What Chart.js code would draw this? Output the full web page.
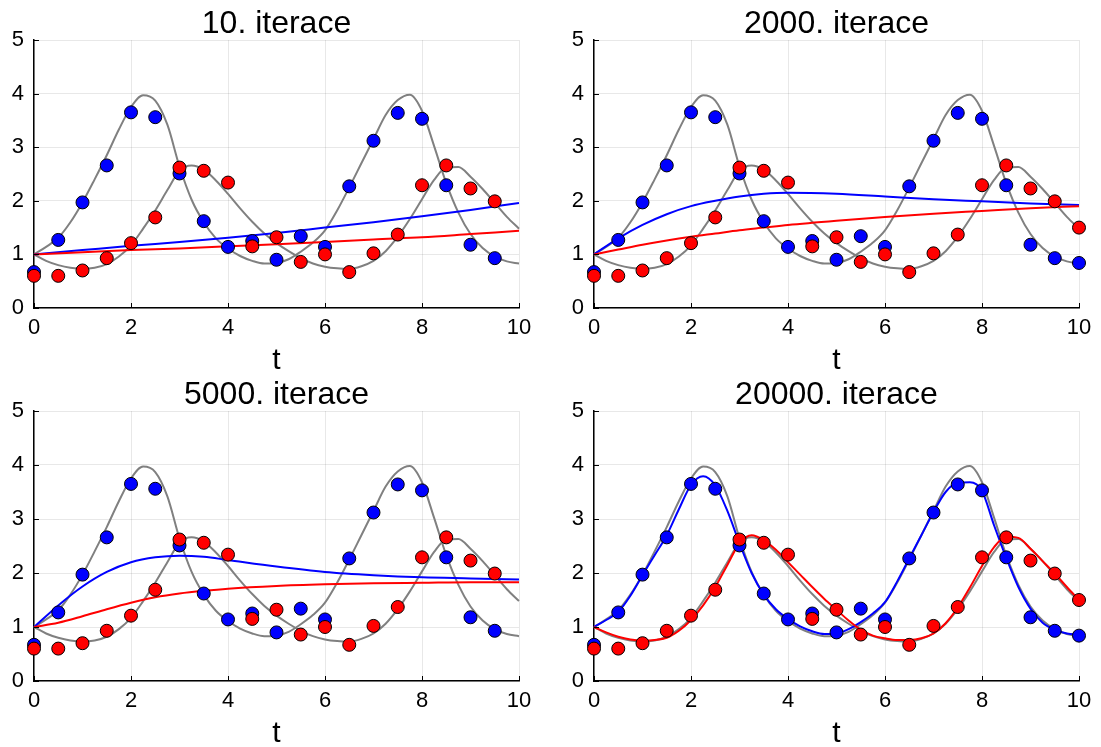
<!DOCTYPE html>
<html>
<head>
<meta charset="utf-8">
<script src="https://cdn.jsdelivr.net/npm/chart.js@4.4.0/dist/chart.umd.min.js"></script>
<style>
  body { margin: 0; background: #fff; }
  #wrap { position: relative; width: 1101px; height: 747px; overflow: hidden; }
  canvas { position: absolute; }
</style>
</head>
<body>
<div id="wrap">
  <canvas id="c1" width="550" height="374" style="left:0;top:0"></canvas>
  <canvas id="c2" width="541" height="374" style="left:560px;top:0"></canvas>
  <canvas id="c3" width="550" height="375" style="left:0;top:372px"></canvas>
  <canvas id="c4" width="541" height="375" style="left:560px;top:372px"></canvas>
</div>
<script>
// measured samples (prey = blue, predator = red)
const tObs = [0, 0.5, 1, 1.5, 2, 2.5, 3, 3.5, 4, 4.5, 5, 5.5, 6, 6.5, 7, 7.5, 8, 8.5, 9, 9.5, 10];
const preyObs = [0.67, 1.27, 1.97, 2.66, 3.65, 3.56, 2.51, 1.62, 1.14, 1.25, 0.90, 1.34, 1.14, 2.27, 3.12, 3.64, 3.53, 2.29, 1.18, 0.93, 0.84];
const predObs = [0.60, 0.60, 0.70, 0.93, 1.21, 1.69, 2.62, 2.56, 2.34, 1.15, 1.32, 0.86, 1.00, 0.67, 1.02, 1.37, 2.29, 2.66, 2.23, 1.99, 1.50];

// true solution (gray)
const tCurve = [0, 0.25, 0.5, 0.75, 1, 1.25, 1.5, 1.75, 2, 2.25, 2.5, 2.75, 3, 3.25, 3.5, 3.75, 4, 4.25, 4.5, 4.75,
  5, 5.25, 5.5, 5.75, 6, 6.25, 6.5, 6.75, 7, 7.25, 7.5, 7.75, 8, 8.25, 8.5, 8.75, 9, 9.25, 9.5, 9.75, 10];
const preyTrue = [1.00, 1.14, 1.31, 1.60, 1.97, 2.40, 2.85, 3.33, 3.75, 3.97, 3.87, 3.42, 2.64, 2.02, 1.60, 1.30, 1.11, 0.97, 0.88, 0.83,
  0.84, 0.91, 1.05, 1.22, 1.45, 1.82, 2.25, 2.70, 3.15, 3.60, 3.88, 3.98, 3.68, 3.02, 2.33, 1.78, 1.38, 1.12, 0.96, 0.87, 0.83];
const predTrue = [1.00, 0.88, 0.80, 0.75, 0.73, 0.75, 0.82, 0.96, 1.17, 1.48, 1.82, 2.20, 2.56, 2.66, 2.58, 2.38, 2.13, 1.86, 1.61, 1.39,
  1.21, 1.06, 0.93, 0.83, 0.77, 0.74, 0.73, 0.78, 0.88, 1.06, 1.33, 1.66, 2.03, 2.39, 2.62, 2.63, 2.45, 2.22, 1.96, 1.70, 1.48];

// network prediction after 10 iterations
const tFit10 = [0, 1, 2, 3, 4, 5, 6, 7, 8, 9, 10];
const preyFit10 = [1.00, 1.08, 1.16, 1.23, 1.31, 1.40, 1.50, 1.60, 1.71, 1.83, 1.96];
const predFit10 = [1.00, 1.04, 1.08, 1.11, 1.15, 1.19, 1.23, 1.28, 1.32, 1.38, 1.44];

// after 2000 iterations
const tFit2000 = [0, 0.5, 1, 1.5, 2, 2.5, 3, 3.5, 4, 5, 6, 7, 8, 9, 10];
const preyFit2000 = [1.00, 1.30, 1.55, 1.75, 1.90, 2.00, 2.08, 2.13, 2.15, 2.13, 2.08, 2.03, 1.99, 1.95, 1.92];
const predFit2000 = [1.00, 1.09, 1.18, 1.26, 1.33, 1.39, 1.45, 1.50, 1.55, 1.63, 1.70, 1.76, 1.81, 1.86, 1.90];

// after 5000 iterations
const tFit5000 = [0, 0.5, 1, 1.5, 2, 2.5, 3, 3.5, 4, 5, 6, 7, 8, 9, 10];
const preyFit5000 = [1.00, 1.40, 1.75, 2.02, 2.20, 2.29, 2.32, 2.30, 2.24, 2.12, 2.02, 1.96, 1.92, 1.90, 1.88];
const predFit5000 = [1.00, 1.08, 1.20, 1.33, 1.45, 1.55, 1.62, 1.67, 1.71, 1.76, 1.79, 1.81, 1.82, 1.83, 1.83];

// after 20000 iterations
const tFit20000 = tCurve;
const preyFit20000 = [1.00, 1.13, 1.28, 1.58, 1.96, 2.33, 2.70, 3.18, 3.63, 3.79, 3.62, 3.15, 2.55, 2.00, 1.60, 1.33, 1.15, 1.01, 0.92, 0.87,
  0.88, 0.96, 1.09, 1.25, 1.46, 1.84, 2.27, 2.70, 3.13, 3.50, 3.67, 3.68, 3.52, 2.88, 2.28, 1.74, 1.34, 1.08, 0.95, 0.88, 0.86];
const predFit20000 = [1.00, 0.90, 0.82, 0.77, 0.75, 0.76, 0.80, 0.93, 1.13, 1.40, 1.74, 2.15, 2.55, 2.70, 2.61, 2.43, 2.20, 1.97, 1.74, 1.52,
  1.32, 1.12, 0.95, 0.84, 0.79, 0.76, 0.76, 0.79, 0.88, 1.07, 1.36, 1.73, 2.13, 2.48, 2.67, 2.65, 2.45, 2.22, 1.99, 1.74, 1.50];

const titles = ['10. iterace', '2000. iterace', '5000. iterace', '20000. iterace'];

const FONT = "'Liberation Sans', Arial, sans-serif";

function pts(xs, ys) {
  return xs.map((x, i) => ({ x: x, y: ys[i] }));
}

function curve(xs, ys, color, order) {
  return {
    data: pts(xs, ys),
    showLine: true,
    borderColor: color,
    borderWidth: 2,
    pointRadius: 0,
    cubicInterpolationMode: 'monotone',
    clip: false,
    order: order
  };
}

function dots(ys, n, color, order) {
  return {
    data: pts(tObs.slice(0, n), ys.slice(0, n)),
    showLine: false,
    pointRadius: 6.5,
    pointHoverRadius: 6.5,
    backgroundColor: color,
    borderColor: '#000',
    borderWidth: 1,
    clip: false,
    order: order
  };
}

// little inward tick marks, like the plotting lib draws
const innerTicks = {
  id: 'innerTicks',
  afterDraw(chart) {
    const ctx = chart.ctx;
    const xs = chart.scales.x, ys = chart.scales.y;
    const a = chart.chartArea;
    ctx.save();
    ctx.strokeStyle = '#000';
    ctx.lineWidth = 1;
    ctx.beginPath();
    xs.ticks.forEach(t => {
      const px = Math.round(xs.getPixelForValue(t.value)) + 0.5;
      ctx.moveTo(px, a.bottom);
      ctx.lineTo(px, a.bottom - 5);
    });
    ys.ticks.forEach(t => {
      const py = Math.round(ys.getPixelForValue(t.value)) + 0.5;
      ctx.moveTo(a.left, py);
      ctx.lineTo(a.left + 5, py);
    });
    ctx.stroke();
    ctx.restore();
  }
};

function makeChart(id, title, tFit, preyFit, predFit, nObs, titleH, padRight) {
  new Chart(document.getElementById(id), {
    type: 'scatter',
    data: {
      datasets: [
        dots(predObs, nObs, '#ff0000', 0),
        dots(preyObs, nObs, '#0000ff', 1),
        curve(tFit, predFit, '#ff0000', 2),
        curve(tFit, preyFit, '#0000ff', 3),
        curve(tCurve, predTrue, '#808080', 4),
        curve(tCurve, preyTrue, '#808080', 5)
      ]
    },
    options: {
      responsive: false,
      animation: false,
      devicePixelRatio: 1,
      layout: { padding: { right: padRight, left: 0, top: 0, bottom: 0 } },
      plugins: {
        legend: { display: false },
        tooltip: { enabled: false },
        title: {
          display: true,
          text: title,
          fullSize: false,
          color: '#000',
          font: { family: FONT, size: 32, weight: 'normal', lineHeight: 1 },
          padding: { top: titleH - 32, bottom: 0 }
        }
      },
      scales: {
        x: {
          type: 'linear',
          min: 0,
          max: 10,
          afterFit(s) { s.height = 66; },
          ticks: { stepSize: 2, autoSkip: false, maxRotation: 0, padding: 7, color: '#000', font: { family: FONT, size: 22 } },
          grid: { color: 'rgba(0,0,0,0.09)', drawTicks: false },
          border: { color: '#000', width: 1.5 },
          title: { display: true, text: 't', color: '#000', font: { family: FONT, size: 30, lineHeight: 0.8 }, padding: { top: 0, bottom: 1 } }
        },
        y: {
          min: 0,
          max: 5,
          afterFit(s) { s.width = 34; },
          ticks: { stepSize: 1, autoSkip: false, padding: 10, color: '#000', font: { family: FONT, size: 22 } },
          grid: { color: 'rgba(0,0,0,0.09)', drawTicks: false },
          border: { color: '#000', width: 1.5 }
        }
      }
    },
    plugins: [innerTicks]
  });
}

makeChart('c1', titles[0], tFit10, preyFit10, predFit10, 20, 40, 31);
makeChart('c2', titles[1], tFit2000, preyFit2000, predFit2000, 21, 40, 22);
makeChart('c3', titles[2], tFit5000, preyFit5000, predFit5000, 20, 39, 31);
makeChart('c4', titles[3], tFit20000, preyFit20000, predFit20000, 21, 39, 22);
</script>
</body>
</html>
